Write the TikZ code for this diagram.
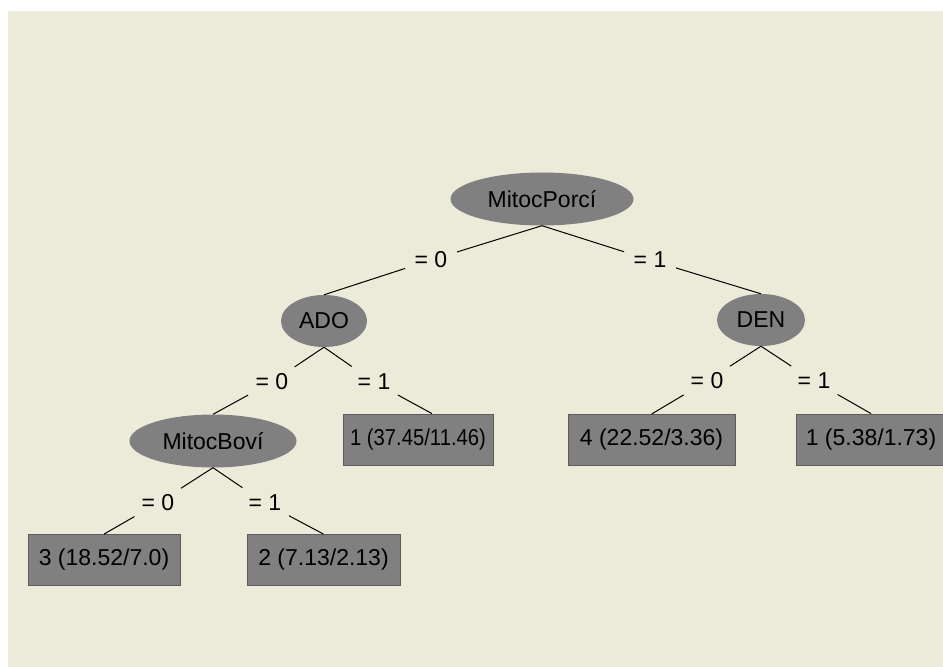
\documentclass[tikz,border=0pt]{standalone}
\usepackage{fontspec}
\setmainfont{Liberation Sans}
\usetikzlibrary{shapes.geometric}
\definecolor{bgbeige}{RGB}{236,234,217}
\definecolor{nodegray}{RGB}{128,128,128}
\definecolor{boxedge}{RGB}{92,92,92}
\begin{document}
\begin{tikzpicture}[x=1pt,y=-1pt,
  every node/.style={font=\fontsize{23}{27}\selectfont, text=black},
  decision/.style={ellipse, fill=nodegray, inner sep=0pt},
  leaf/.style={rectangle, fill=nodegray, draw=boxedge, line width=0.8pt, minimum width=150pt, minimum height=51pt, inner sep=0pt},
  branch/.style={circle, minimum size=54pt, inner sep=0pt},
  link/.style={draw=black, line width=1pt}]
\useasboundingbox (0,0) rectangle (943,667);
\clip (0,0) rectangle (943,667);
\fill[white] (0,0) rectangle (943,667);
\fill[bgbeige] (8,11) rectangle (943,667);

% decision nodes
\node[decision, minimum width=183pt, minimum height=53pt] (root) at (542,199) {MitocPorcí};
\node[decision, minimum width=86pt, minimum height=52pt] (ado) at (324,321) {ADO};
\node[decision, minimum width=88pt, minimum height=52pt] (den) at (761,320) {DEN};
\node[decision, minimum width=167pt, minimum height=53pt] (bov) at (213,441) {MitocBoví};

% leaves
\node[leaf] (ado1) at (418,439.5) {\scalebox{0.88}[1]{1 (37.45/11.46)}};
\node[leaf, minimum width=167pt] (den0) at (651.5,440) {4 (22.52/3.36)};
\node[leaf] (den1) at (871,439.5) {1 (5.38/1.73)};
\node[leaf, minimum width=152pt] (bov0) at (104,560) {3 (18.52/7.0)};
\node[leaf, minimum width=153pt] (bov1) at (323.5,560) {2 (7.13/2.13)};

% branch labels
\node[branch] (r0) at (431,260) {= 0};
\node[branch] (r1) at (650,260) {= 1};
\node[branch] (a0) at (272,382) {= 0};
\node[branch] (a1) at (374,382) {= 1};
\node[branch] (d0) at (707,381) {= 0};
\node[branch] (d1) at (814,381) {= 1};
\node[branch] (b0) at (158,503) {= 0};
\node[branch] (b1) at (265,503) {= 1};

% connectors
\draw[link] (root.south) -- (r0);
\draw[link] (r0) -- (ado.north);
\draw[link] (root.south) -- (r1);
\draw[link] (r1) -- (den.north);
\draw[link] (ado.south) -- (a0);
\draw[link] (a0) -- (bov.north);
\draw[link] (ado.south) -- (a1);
\draw[link] (a1) -- ([xshift=14pt]ado1.north);
\draw[link] (den.south) -- (d0);
\draw[link] (d0) -- (den0.north);
\draw[link] (den.south) -- (d1);
\draw[link] (d1) -- (den1.north);
\draw[link] (bov.south) -- (b0);
\draw[link] (b0) -- (bov0.north);
\draw[link] (bov.south) -- (b1);
\draw[link] (b1) -- (bov1.north);
\end{tikzpicture}
\end{document}
